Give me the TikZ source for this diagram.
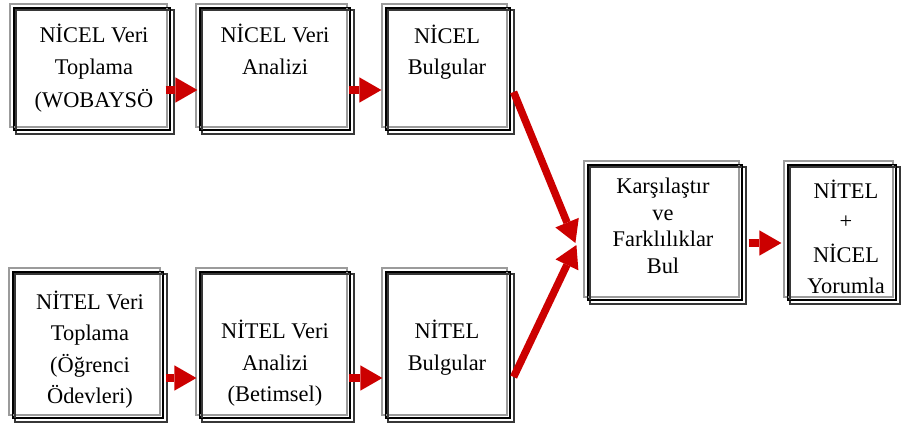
\documentclass[tikz,border=0pt]{standalone}
\usepackage{fontspec}
\setmainfont{Liberation Serif}
\usetikzlibrary{arrows.meta,calc}
\definecolor{arrred}{RGB}{204,0,0}
\definecolor{boxgray}{RGB}{155,155,155}
\definecolor{boxdark}{RGB}{55,55,55}
\begin{document}
\begin{tikzpicture}[x=0.75pt,y=-0.75pt,
  boxnode/.style={draw=black, line width=0.9pt, inner sep=0pt},
  txt/.style={anchor=base, inner sep=0pt, font=\fontsize{16.8}{20}\selectfont},
  arr/.style={draw=arrred, line width=5.6pt,
    -{Triangle[length=16.5pt, width=19pt, line width=0pt]}}]
\useasboundingbox (0,0) rectangle (904,428);
% boxes (main rectangles)
\node[boxnode, minimum width=117pt, minimum height=91.5pt] (b1) at (92,69) {};
\node[boxnode, minimum width=112.5pt, minimum height=91.5pt] (b2) at (275,69) {};
\node[boxnode, minimum width=93pt, minimum height=91.5pt] (b3) at (448,69) {};
\node[boxnode, minimum width=112.5pt, minimum height=109.5pt] (b4) at (88,345) {};
\node[boxnode, minimum width=112.5pt, minimum height=109.5pt] (b5) at (275,345) {};
\node[boxnode, minimum width=93pt, minimum height=109.5pt] (b6) at (448,345) {};
\node[boxnode, minimum width=115.5pt, minimum height=101.25pt] (b7) at (665,232.5) {};
\node[boxnode, minimum width=81pt, minimum height=101.25pt] (b8) at (842,232.5) {};
% 3D style frame lines
\foreach \n in {b1,b2,b3,b4,b5,b6,b7,b8}{
  \draw[boxgray, line width=2pt] ($(\n.north west)+(-3.5,-3.5)$) rectangle ($(\n.south east)+(-3.5,-3.5)$);
  \draw[boxdark, line width=1.5pt] ($(\n.north west)+(3,3)$) rectangle ($(\n.south east)+(3,3)$);
  \draw[black, line width=0.9pt] (\n.north west) rectangle (\n.south east);
}
% texts
\node[txt] at (94,43) {NİCEL Veri};
\node[txt] at (94,75) {Toplama};
\node[txt] at (94,108) {(WOBAYSÖ};
\node[txt] at (275,43) {NİCEL Veri};
\node[txt] at (275,75) {Analizi};
\node[txt] at (447,44) {NİCEL};
\node[txt] at (447,75) {Bulgular};
\node[txt] at (90,309) {NİTEL Veri};
\node[txt] at (90,340) {Toplama};
\node[txt] at (90,372) {(Öğrenci};
\node[txt] at (90,403) {Ödevleri)};
\node[txt] at (275,338) {NİTEL Veri};
\node[txt] at (275,370) {Analizi};
\node[txt] at (275,401) {(Betimsel)};
\node[txt] at (447,338) {NİTEL};
\node[txt] at (447,370) {Bulgular};
\node[txt] at (663,193) {Karşılaştır};
\node[txt] at (663,220) {ve};
\node[txt] at (663,246) {Farklılıklar};
\node[txt] at (663,273) {Bul};
\node[txt] at (846,198) {NİTEL};
\node[txt] at (846,228) {+};
\node[txt] at (846,262) {NİCEL};
\node[txt] at (846,293) {Yorumla};
% arrows
\draw[arr] ($(b1.east)+(-5,21)$) -- ($(b2.west)+(-2,21)$);
\draw[arr] ($(b2.east)+(-2,21)$) -- ($(b3.west)+(-4,21)$);
\draw[arr] ($(b4.east)+(2,33)$) -- ($(b5.west)+(-3,33)$);
\draw[arr] ($(b5.east)+(-2,33)$) -- ($(b6.west)+(-3,33)$);
\draw[arr] ($(b3.east)+(3,23)$) -- ($(b7.west)+(-12,10.5)$);
\draw[arr] ($(b6.east)+(3,32)$) -- ($(b7.west)+(-11,12.5)$);
\draw[arr] ($(b7.east)+(6,10.5)$) -- ($(b8.west)+(-6,10.5)$);
\end{tikzpicture}
\end{document}
